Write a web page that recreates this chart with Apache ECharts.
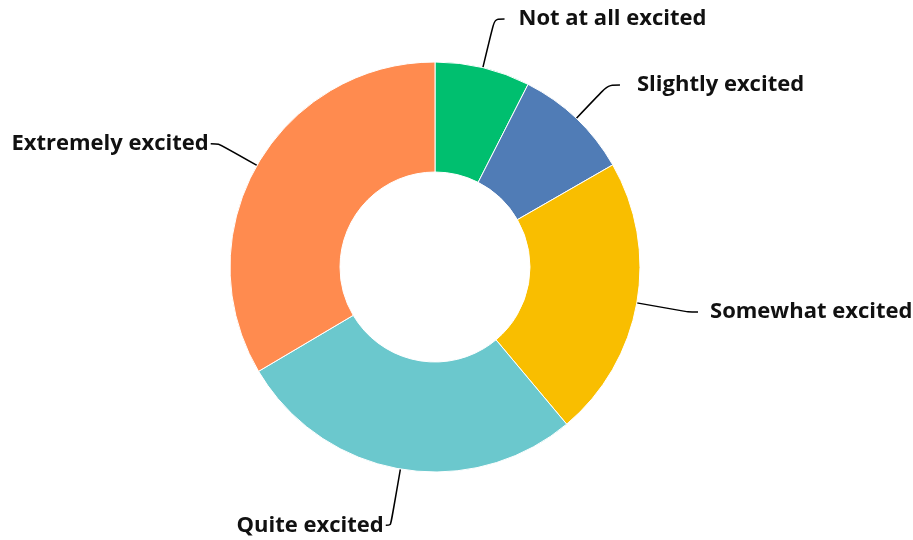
<!DOCTYPE html>
<html>
<head>
<meta charset="utf-8">
<script src="https://cdn.jsdelivr.net/npm/echarts@6/dist/echarts.min.js"></script>
<style>html,body{margin:0;padding:0;background:#fff}#c{width:913px;height:540px}</style>
</head>
<body>
<div id="c"></div>
<script>
const categories = ["Not at all excited", "Slightly excited", "Somewhat excited", "Quite excited", "Extremely excited"];
const values = [7.5, 9.2, 22.2, 27.6, 33.5];
const colors = ["#00BF6F", "#507CB6", "#F9BE00", "#6BC8CD", "#FF8B4F"];
// label line layout per slice (style only)
const lineLengths = [50, 46, 52, 57, 44];
const lineLengths2 = [10, 12, 10, 5, 8];
const labelGaps = [14, 17, 12, 2, 2];

const chart = echarts.init(document.getElementById('c'));
chart.setOption({
  animation: false,
  series: [{
    type: 'pie',
    center: [435, 267],
    radius: [95, 205],
    startAngle: 90,
    clockwise: true,
    avoidLabelOverlap: true,
    itemStyle: { borderColor: '#fff', borderWidth: 1 },
    label: {
      show: true,
      position: 'outside',
      fontFamily: 'Open Sans',
      fontWeight: 700,
      fontSize: 22,
      color: '#111',
      width: 240,
      overflow: 'none'
    },
    labelLine: {
      show: true,
      smooth: 0.3,
      lineStyle: { color: '#000', width: 1.5 }
    },
    emphasis: { disabled: true },
    data: categories.map((n, i) => ({
      name: n,
      value: values[i],
      itemStyle: { color: colors[i] },
      label: { distanceToLabelLine: labelGaps[i] },
      labelLine: { length: lineLengths[i], length2: lineLengths2[i] }
    }))
  }]
});
</script>
</body>
</html>
